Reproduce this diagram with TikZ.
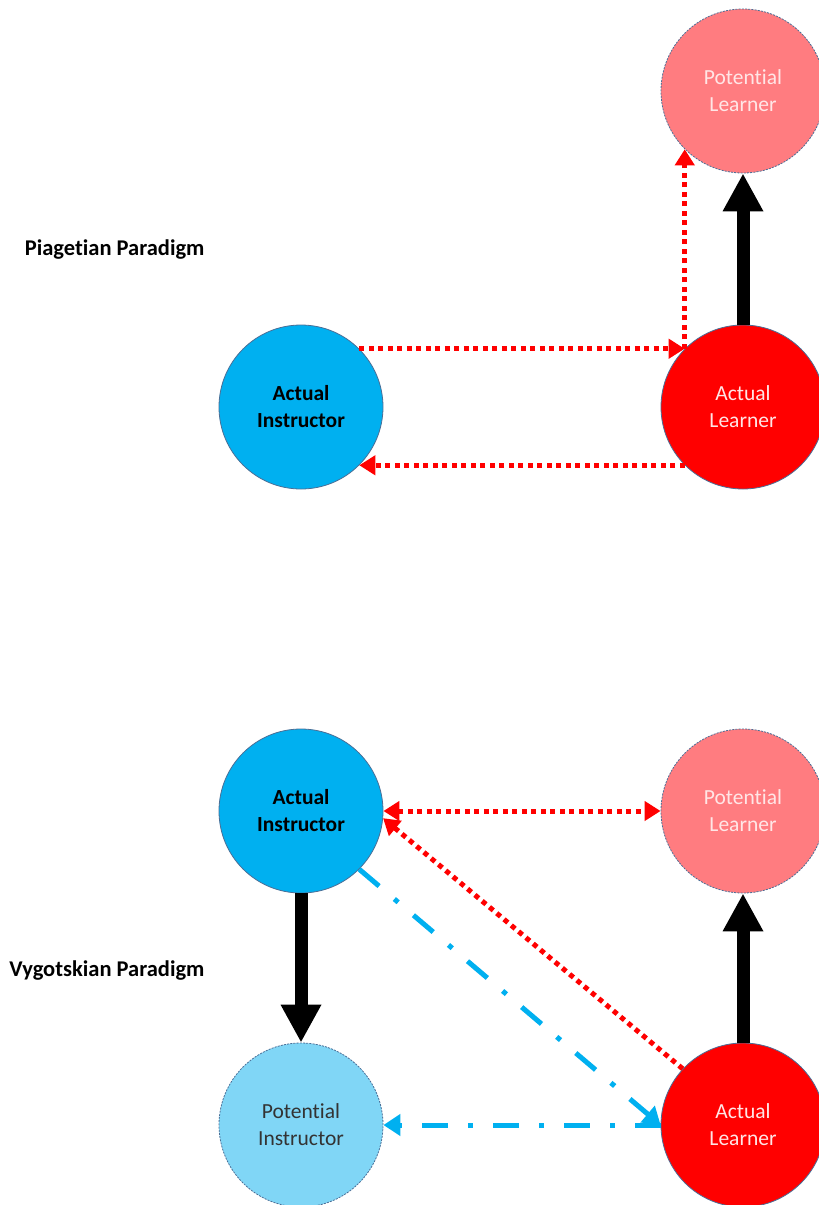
\documentclass[tikz,border=0pt]{standalone}
\usepackage{fontspec}
\setmainfont[Ligatures=NoCommon]{Carlito}
\usetikzlibrary{arrows.meta}
\definecolor{aiblue}{HTML}{00B0F0}
\definecolor{piblue}{HTML}{80D6F6}
\definecolor{alred}{HTML}{FF0000}
\definecolor{plred}{HTML}{FF7C80}
\definecolor{edgecol}{HTML}{4A6E96}
\definecolor{paletext}{HTML}{FFE6E6}
\begin{document}
\begin{tikzpicture}[x=1pt,y=-1pt,
  circ/.style={circle, minimum size=164pt, inner sep=0pt, draw=edgecol, line width=0.8pt,
    align=center, font=\fontsize{21.5}{27}\selectfont},
  potential/.style={circ, dash pattern=on 2pt off 1.2pt},
  label/.style={anchor=east, font=\fontsize{22.5}{26}\selectfont\bfseries},
  reddot/.style={draw=alred, line width=5pt, dash pattern=on 5pt off 4.5pt,
    -{Triangle[length=16pt,width=19pt]}},
  bigarrow/.style={draw=black, line width=13pt, -{Triangle[length=38pt,width=38pt]}},
  bluedd/.style={draw=aiblue, line width=5pt, dash pattern=on 26pt off 20pt on 5pt off 20pt,
    -{Triangle[length=17pt,width=21pt]}}
]
\useasboundingbox (0,0) rectangle (819,1205);
\fill[white] (0,0) rectangle (819,1205);

% Piagetian paradigm
\node[label] (piaget) at (208,250) {Piagetian Paradigm};
\node[circ, fill=aiblue, font=\fontsize{21.5}{27}\selectfont\bfseries] (ai1) at (301,407) {Actual\\Instructor};
\node[circ, fill=alred, text=paletext] (al1) at (743,407) {Actual\\Learner};
\node[potential, fill=plred, text=paletext] (pl1) at (743,91) {Potential\\Learner};

\draw[reddot] (ai1.45) -- (al1.135);
\draw[reddot] (al1.135) -- (pl1.225);
\draw[reddot] (al1.225) -- (ai1.315);
\draw[bigarrow] (al1.north) -- (pl1.south);

% Vygotskian paradigm
\node[label] (vygot) at (208,970) {Vygotskian Paradigm};
\node[circ, fill=aiblue, font=\fontsize{21.5}{27}\selectfont\bfseries] (ai2) at (301,811) {Actual\\Instructor};
\node[potential, fill=plred, text=paletext] (pl2) at (743,811) {Potential\\Learner};
\node[potential, fill=piblue, text=black!80] (pi2) at (301,1125) {Potential\\Instructor};
\node[circ, fill=alred, text=paletext] (al2) at (743,1125) {Actual\\Learner};

\draw[reddot, {Triangle[length=16pt,width=19pt]}-{Triangle[length=16pt,width=19pt]}] (ai2.east) -- (pl2.west);
\draw[reddot] (al2.137) -- (ai2.-5);
\draw[bigarrow] (ai2.south) -- (pi2.north);
\draw[bigarrow] (al2.north) -- (pl2.south);
\draw[bluedd] (ai2.-45) -- (al2.west);
\draw[bluedd] (al2.west) -- (pi2.east);
\end{tikzpicture}
\end{document}
